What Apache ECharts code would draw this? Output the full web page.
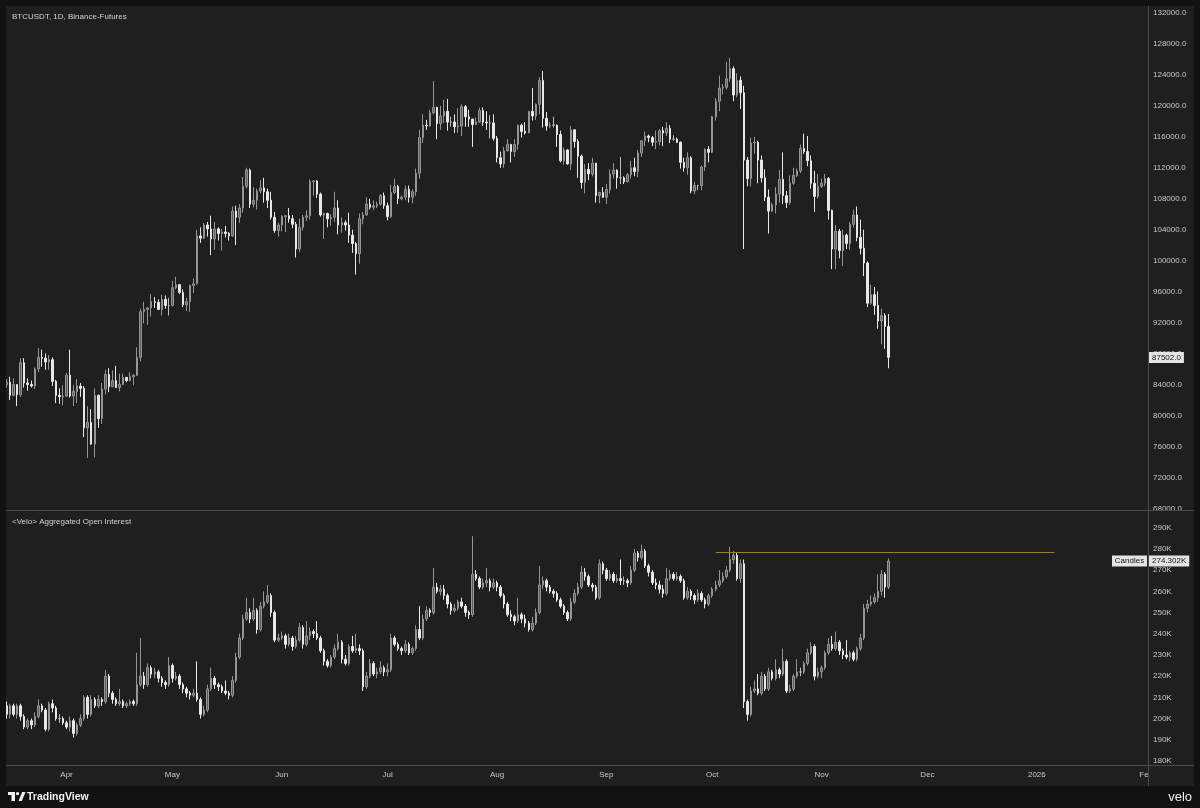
<!DOCTYPE html>
<html>
<head>
<meta charset="utf-8">
<script src="https://cdn.jsdelivr.net/npm/echarts@6/dist/echarts.min.js"></script>
<style>
html,body{margin:0;padding:0;background:#121212;}
#c{width:1200px;height:808px;}
</style>
</head>
<body>
<div id="c"></div>
<script>
// ---------- DATA ----------
const startDate = '2025-03-15';       // first daily candle
const shownDays = 324;                // visible span: 15 Mar 2025 .. 1 Feb 2026
const monthNames = ['Jan','Feb','Mar','Apr','May','Jun','Jul','Aug','Sep','Oct','Nov','Dec'];

// BTCUSDT daily, thousands of USD (open of each day = previous close)
const priceOpen0 = 84.0;
const priceClose = [
 84.3,82.6,84.0,82.7,86.8,84.2,84.0,83.8,86.0,87.5,87.4,86.9,87.2,84.4,82.6,82.4,82.5,
 85.2,82.5,83.1,83.8,83.5,78.4,79.1,76.3,82.6,79.6,83.4,85.3,83.7,84.5,83.6,84.0,84.9,84.5,85.0,85.2,87.5,93.4,93.7,93.9,94.7,94.6,93.7,95.0,94.2,94.2,
 96.5,96.9,95.9,94.3,94.7,96.8,97.0,103.2,102.9,104.6,104.1,102.8,104.1,103.5,103.7,103.5,103.2,106.4,105.6,106.8,109.6,111.7,107.3,107.8,109.0,109.4,108.9,107.8,105.6,103.9,104.6,
 105.7,105.8,105.4,104.7,101.5,104.3,105.6,105.8,110.2,110.3,108.6,105.9,106.1,105.4,105.6,106.8,104.6,104.9,104.6,103.3,102.2,100.9,105.4,105.9,107.3,106.9,107.1,107.3,108.4,107.1,
 105.7,108.8,109.6,108.0,108.2,109.2,108.2,108.9,111.3,115.9,117.5,117.4,119.1,119.8,117.7,118.7,119.3,117.9,117.9,117.3,117.4,119.9,118.6,118.3,117.6,117.9,119.4,117.9,117.8,117.8,115.8,
 113.3,112.5,114.2,115.0,114.1,115.0,117.5,116.7,116.5,119.3,118.7,120.2,123.3,118.4,117.4,117.5,117.5,116.3,112.9,114.3,112.5,116.9,115.4,113.5,110.1,111.8,111.2,112.6,108.4,108.8,108.2,
 109.2,111.2,111.7,110.7,110.7,110.2,111.1,112.0,111.5,113.9,115.5,116.1,115.9,115.3,115.4,116.8,116.5,117.1,115.7,115.7,115.3,112.7,112.0,113.3,109.0,109.7,109.7,112.1,114.4,114.0,
 118.6,120.6,122.3,122.4,123.5,124.8,121.4,123.3,121.7,113.0,110.6,115.2,115.3,113.0,110.7,108.2,106.4,107.2,108.6,110.5,108.4,107.5,110.0,111.0,111.6,114.5,114.1,112.9,110.0,108.3,109.6,
 110.0,110.6,106.5,101.5,103.8,101.3,103.3,102.2,104.7,105.9,103.0,101.6,99.7,94.5,95.6,94.2,92.2,92.9,91.5,87.502
];
const priceHigh = [
 84.7,85.0,84.8,84.0,87.4,87.4,84.8,84.5,86.2,88.7,88.5,88.0,87.8,87.5,84.6,83.5,83.9,
 85.5,88.5,83.9,84.7,84.2,83.8,81.2,80.8,83.5,82.7,84.2,85.9,86.1,85.8,86.4,85.4,85.4,85.0,85.6,85.3,88.8,93.8,94.7,94.0,95.7,95.3,95.0,95.6,95.5,95.2,
 97.4,97.9,96.9,96.3,95.2,96.9,97.7,104.0,104.3,104.9,105.0,105.8,105.0,104.3,104.1,104.5,103.7,107.0,107.1,107.3,110.8,112.0,111.9,109.5,109.3,110.4,110.7,109.3,108.9,106.3,104.9,
 105.9,105.9,106.8,105.9,105.0,105.4,105.9,106.5,110.5,110.4,110.4,108.8,106.2,106.2,106.0,108.9,107.8,105.6,105.2,106.2,104.0,102.4,106.1,106.3,108.2,108.0,107.8,107.6,108.6,108.8,
 107.5,109.8,110.6,109.8,108.4,109.7,109.7,109.2,111.9,116.9,118.9,118.2,119.5,123.2,119.9,120.0,120.8,120.9,118.6,118.9,119.7,120.2,120.1,119.5,118.3,118.5,119.8,119.8,119.3,118.8,118.9,
 116.1,114.1,114.7,115.7,115.1,115.7,117.6,117.7,117.9,119.3,122.3,120.3,123.7,124.5,119.2,117.9,118.6,117.6,116.8,114.6,114.4,117.4,117.0,115.7,113.7,112.5,112.6,113.3,112.6,108.9,109.5,
 109.9,111.8,112.6,111.8,113.4,110.9,111.3,112.9,113.3,114.3,115.5,116.7,116.3,116.1,116.8,117.0,117.3,117.9,117.5,116.2,115.9,115.4,113.3,114.0,113.5,110.2,109.8,112.3,114.5,114.8,
 118.7,121.0,123.9,122.8,125.7,126.2,125.1,124.2,123.8,122.6,113.4,115.9,116.0,115.5,113.6,111.8,109.2,107.5,109.5,111.7,114.0,109.0,111.0,112.0,111.9,115.0,116.4,116.1,113.6,111.6,111.2,
 110.6,111.2,110.8,106.6,104.6,104.1,104.0,103.5,105.0,106.6,107.0,105.3,104.0,99.9,96.9,96.6,96.0,93.8,93.2,93.1
];
const priceLow = [
 83.6,82.0,82.5,81.2,82.4,83.6,83.2,83.6,83.4,85.6,86.3,85.9,85.9,83.8,81.6,81.5,81.3,
 82.4,82.3,81.2,81.6,82.4,77.2,74.5,76.2,74.6,78.4,78.9,82.7,83.0,83.7,83.6,83.1,83.9,84.3,84.4,83.9,85.1,87.0,91.9,91.7,92.8,93.9,93.6,92.9,93.8,92.9,
 94.1,96.3,95.7,94.0,93.5,93.4,95.8,96.9,102.3,102.8,103.1,100.7,101.4,102.6,101.3,103.0,102.6,103.1,102.0,104.9,106.2,109.3,106.8,106.9,106.6,108.7,107.5,106.8,105.3,103.6,103.1,
 103.8,103.7,104.9,104.2,100.4,101.1,103.9,105.1,105.3,108.4,108.1,105.7,102.8,104.3,104.5,105.0,103.4,103.6,103.9,102.3,101.0,98.2,99.6,104.7,105.8,106.6,106.5,106.8,107.1,106.7,
 105.2,105.5,108.6,107.3,107.8,107.8,107.5,107.4,108.4,110.6,115.2,116.9,117.3,118.9,115.7,116.9,117.8,116.8,117.3,116.5,116.5,116.1,117.3,117.3,114.7,117.5,117.8,117.4,116.9,115.8,115.5,
 112.7,112.0,112.0,114.1,112.7,113.4,114.3,115.9,116.3,116.5,118.1,118.2,118.9,117.2,116.8,117.1,117.2,114.7,112.7,112.4,112.4,111.7,114.6,110.7,109.3,108.7,110.4,110.9,107.5,107.4,108.1,
 107.3,108.7,110.6,109.3,109.9,109.9,110.1,110.6,110.9,110.8,113.4,114.8,115.3,114.8,114.4,114.9,114.8,116.1,115.2,115.5,115.2,111.9,111.5,111.1,108.7,108.6,109.1,109.1,111.6,112.7,
 113.9,118.1,119.3,121.5,122.1,123.1,120.6,121.1,119.6,101.5,109.6,109.6,113.8,110.0,110.1,107.7,103.5,106.3,106.1,107.5,107.3,106.8,107.2,109.8,110.8,111.3,113.8,112.2,109.3,106.3,108.0,
 109.4,109.6,105.3,98.9,98.9,100.3,99.3,101.5,101.4,104.3,102.5,100.8,98.0,94.0,94.3,93.0,91.2,89.2,88.6,86.1
];

// Aggregated open interest, thousands (K) (open of each day = previous close)
const oiOpen0 = 206;
const oiClose = [
 202,206,202,206,201,196,199,197,201,206, 204,195,207,205,200,200,198,196,199,193,
 197,200,210,202,209,206,209,208,220,212, 209,207,208,206,207,208,207,216,220,216,
 224,221,222,219,217,216,225,219,220,216, 214,212,211,212,209,202,204,214,219,216,
 215,213,212,211,218,229,238,247,250,247, 251,242,253,255,258,250,237,238,239,235,
 238,234,237,243,235,239,241,240,238,232, 227,225,229,233,236,228,226,234,232,233,
 232,215,220,226,221,222,224,222,223,238, 235,233,232,235,231,233,242,238,247,251,
 250,262,260,261,258,254,251,252,255,253, 250,249,268,266,262,264,265,262,264,262,
 258,254,249,248,246,249,247,245,242,245, 250,263,265,262,260,259,256,253,250,247,
 255,259,262,269,267,263,262,257,273,270, 266,268,265,266,265,265,264,270,278,276,
 279,272,269,264,263,261,259,266,268,266, 267,265,257,260,258,256,259,256,254,258,
 261,263,265,267,270,275,277,266,273,208, 202,213,214,212,220,214,222,219,223,221,
 227,213,214,220,222,222,226,231,234,220, 222,224,231,235,233,236,232,230,229,231,
 228,233,238,252,254,255,257,260,268,262, 274.302
];
const oiHigh = [
 208,207,207,207,207,202,200,200,203,209, 207,205,208,209,206,202,201,199,201,200,
 198,202,211,211,211,210,211,210,223,221, 213,210,214,209,208,209,209,231,238,222,
 226,225,224,223,220,218,229,226,222,221, 217,215,213,214,227,210,206,216,224,220,
 217,216,218,213,220,231,240,249,257,252, 257,252,255,260,263,259,251,240,241,240,
 240,239,239,245,244,246,243,242,246,239, 233,228,230,235,240,237,230,235,239,240,
 235,233,222,228,227,224,227,225,226,240, 239,236,234,237,236,234,244,253,249,253,
 252,271,264,263,263,259,255,254,256,257, 254,251,286,270,267,266,271,266,266,265,
 263,259,255,251,249,257,250,249,246,248, 252,272,267,266,263,261,260,257,254,251,
 257,261,264,272,271,268,264,263,275,274, 271,270,269,268,275,267,266,272,280,279,
 282,280,273,270,266,265,263,271,270,269, 269,268,266,262,261,259,261,260,257,259,
 262,265,270,269,272,281,279,278,275,275, 209,215,218,221,222,221,224,223,228,224,
 233,228,216,221,228,224,227,233,236,235, 224,225,232,238,239,241,237,233,237,232,
 232,234,240,254,256,258,259,268,270,269, 275.5
];
const oiLow = [
 200,200,201,200,199,195,195,195,196,200, 203,194,194,203,199,198,197,195,194,191,
 192,196,199,200,201,205,205,206,207,210, 207,206,206,205,205,206,206,206,215,214,
 215,219,219,217,215,214,215,217,218,214, 212,210,209,210,208,200,201,203,213,214,
 213,212,211,209,210,217,228,237,246,245, 246,240,241,252,254,248,236,236,237,233,
 234,232,233,236,233,234,237,238,237,231, 225,224,224,228,232,226,225,225,231,231,
 230,213,214,219,220,219,221,220,220,222, 234,232,230,231,230,230,232,237,237,246,
 248,249,259,258,256,252,249,250,251,252, 248,247,248,265,261,261,262,260,261,260,
 257,252,248,246,244,245,245,243,241,241, 244,249,261,260,259,257,255,252,249,246,
 246,254,258,261,265,262,260,256,256,268, 265,265,264,264,263,263,262,263,269,274,
 275,271,267,263,261,259,257,258,265,265, 265,264,256,256,256,254,255,255,252,253,
 257,260,262,264,266,269,273,265,264,205, 199,201,212,211,211,213,213,218,218,219,
 220,212,212,213,219,220,221,225,230,218, 219,219,223,230,232,232,230,228,228,227,
 227,227,232,237,250,253,254,255,258,257, 261
];

// horizontal level drawn on the OI pane (from Oct high, extended forward)
const oiLevel = 278.4;
const oiLevelStartIdx = 201;
const oiLevelEndIdx = 297;

// axis settings
const priceAxis = {min: 68, max: 132, interval: 4};
const oiAxis = {min: 180, max: 290, interval: 10};

// ---------- BUILD ----------
const cats = [];
(function(){
  const p = startDate.split('-').map(Number);
  const t0 = Date.UTC(p[0], p[1]-1, p[2]);
  for (let i = 0; i < shownDays; i++) {
    cats.push(new Date(t0 + i*86400000).toISOString().slice(0,10));
  }
})();
function ohlc(open0, close, low, high){
  return close.map((c,i)=>[i===0?open0:close[i-1], c, low[i], high[i]]);
}
const priceData = ohlc(priceOpen0, priceClose, priceLow, priceHigh);
const oiData = ohlc(oiOpen0, oiClose, oiLow, oiHigh);
const lastPrice = priceClose[priceClose.length-1];
const lastOI = oiClose[oiClose.length-1];

const FONT = '"Liberation Sans", Arial, sans-serif';
const paneBg = '#1f1f1f';
const frame = '#121212';
const sep = '#4a4a4a';
const txt = '#c9c9c9';

const candleStyle = {
  color: '#5c5c5c', color0: '#e8e8e8',
  borderColor: '#959595', borderColor0: '#e8e8e8', borderColorDoji: '#bdbdbd',
  borderWidth: 1
};

function monthLabel(v){
  const m = Number(v.slice(5,7));
  return m === 1 ? v.slice(0,4) : monthNames[m-1];
}

const option = {
  backgroundColor: paneBg,
  animation: false,
  textStyle: {fontFamily: FONT},
  grid: [
    {left: 4.8, width: 1143.2, top: 13, height: 495.3},
    {left: 4.8, width: 1143.2, top: 527.7, height: 233.3}
  ],
  xAxis: [
    {type:'category', gridIndex:0, data:cats, boundaryGap:true,
     axisLine:{show:false}, axisTick:{show:false}, axisLabel:{show:false}, splitLine:{show:false}},
    {type:'category', gridIndex:1, data:cats, boundaryGap:true,
     axisLine:{show:false}, axisTick:{show:false}, splitLine:{show:false},
     axisLabel:{show:true, color:txt, fontSize:8, fontFamily:FONT, margin:10,
       interval:(i,v)=>v.slice(8)==='01', formatter:(v)=>monthLabel(v)}}
  ],
  yAxis: [
    {type:'value', gridIndex:0, position:'right', min:priceAxis.min, max:priceAxis.max, interval:priceAxis.interval,
     axisLine:{show:false}, axisTick:{show:false}, splitLine:{show:false},
     axisLabel:{color:txt, fontSize:8, fontFamily:FONT, margin:5,
       formatter:(v)=>Math.round(v*1000).toFixed(1)}},
    {type:'value', gridIndex:1, position:'right', min:oiAxis.min, max:oiAxis.max, interval:oiAxis.interval,
     axisLine:{show:false}, axisTick:{show:false}, splitLine:{show:false},
     axisLabel:{color:txt, fontSize:8, fontFamily:FONT, margin:5,
       formatter:(v)=>Math.round(v)+'K'}}
  ],
  series: [
    {type:'candlestick', name:'BTCUSDT', xAxisIndex:0, yAxisIndex:0, data:priceData,
     barWidth:2, itemStyle:candleStyle, silent:true,
     markLine:{silent:true, symbol:['none','none'], animation:false,
       lineStyle:{color:'rgba(0,0,0,0)', width:0},
       data:[{yAxis:lastPrice, label:{show:true, position:'end', distance:1,
         formatter:()=>Math.round(lastPrice*1000).toFixed(1),
         backgroundColor:'#e4e4e4', color:'#141414', fontSize:8, fontFamily:FONT, padding:[2,3,1,3]}}]}
    },
    {type:'candlestick', name:'Open Interest', xAxisIndex:1, yAxisIndex:1, data:oiData,
     barWidth:2, itemStyle:candleStyle, silent:true,
     markLine:{silent:true, symbol:['none','none'], animation:false,
       data:[
         {yAxis:lastOI, lineStyle:{color:'rgba(0,0,0,0)', width:0},
          label:{show:true, position:'end', distance:1,
            formatter:()=>lastOI.toFixed(3)+'K',
            backgroundColor:'#e4e4e4', color:'#141414', fontSize:8, fontFamily:FONT, padding:[2,3,1,3]}},
         [{coord:[cats[oiLevelStartIdx], oiLevel], lineStyle:{color:'#a37a2c', width:1, type:'solid'}, label:{show:false}},
          {coord:[cats[oiLevelEndIdx], oiLevel]}]
       ]}
    }
  ],
  graphic: {elements: [
    {type:'rect', id:'fTop', shape:{x:0,y:0,width:1200,height:6}, style:{fill:frame}, z:100, silent:true},
    {type:'rect', id:'fLeft', shape:{x:0,y:0,width:6,height:808}, style:{fill:frame}, z:100, silent:true},
    {type:'rect', id:'fRight', shape:{x:1194,y:0,width:6,height:808}, style:{fill:frame}, z:100, silent:true},
    {type:'rect', id:'fBot', shape:{x:0,y:786,width:1200,height:22}, style:{fill:frame}, z:100, silent:true},
    {type:'rect', id:'clipX', shape:{x:1149,y:766,width:45,height:20}, style:{fill:paneBg}, z:90, silent:true},
    {type:'rect', id:'clip68', shape:{x:1149,y:511,width:45,height:7}, style:{fill:paneBg}, z:90, silent:true},
    {type:'line', id:'sep1', shape:{x1:6,y1:510.5,x2:1194,y2:510.5}, style:{stroke:sep, lineWidth:1}, z:95, silent:true},
    {type:'line', id:'sep2', shape:{x1:6,y1:765.5,x2:1194,y2:765.5}, style:{stroke:sep, lineWidth:1}, z:95, silent:true},
    {type:'line', id:'sepV', shape:{x1:1148.5,y1:6,x2:1148.5,y2:786}, style:{stroke:sep, lineWidth:1}, z:95, silent:true},
    {type:'text', id:'t1', x:12, y:17, z:96, silent:true,
     style:{text:'BTCUSDT, 1D, Binance-Futures', fill:'#d2d2d2', font:'8px '+FONT, verticalAlign:'middle'}},
    {type:'text', id:'t2', x:12, y:522, z:96, silent:true,
     style:{text:'<Velo> Aggregated Open Interest', fill:'#d2d2d2', font:'8px '+FONT, verticalAlign:'middle'}},
    // TradingView logo mark
    {type:'rect', id:'lg1', shape:{x:8,y:792,width:7,height:3}, style:{fill:'#f2f2f2'}, z:101, silent:true},
    {type:'rect', id:'lg2', shape:{x:11.5,y:792,width:3.5,height:9}, style:{fill:'#f2f2f2'}, z:101, silent:true},
    {type:'circle', id:'lg3', shape:{cx:17.6,cy:793.6,r:1.7}, style:{fill:'#f2f2f2'}, z:101, silent:true},
    {type:'polygon', id:'lg4', shape:{points:[[18.5,801],[21.8,801],[25.5,792],[22.2,792]]}, style:{fill:'#f2f2f2'}, z:101, silent:true},
    {type:'text', id:'tv', x:27, y:797, z:101, silent:true,
     style:{text:'TradingView', fill:'#f2f2f2', font:'bold 10.5px '+FONT, verticalAlign:'middle'}},
    {type:'text', id:'velo', x:1192, y:797, z:101, silent:true,
     style:{text:'velo', fill:'#f0f0f0', font:'13px '+FONT, align:'right', verticalAlign:'middle'}}
  ]}
};

const chart = echarts.init(document.getElementById('c'), null, {renderer:'canvas'});
chart.setOption(option);

// "Candles" tag to the left of the open-interest value label, placed via the series' axes
const lastIdx = oiClose.length - 1;
const pt = chart.convertToPixel({seriesIndex:1}, [cats[lastIdx], lastOI]);
const tagY = (pt && isFinite(pt[1])) ? pt[1] : null;
if (tagY !== null) {
  chart.setOption({graphic:{elements:[
    {type:'rect', id:'candlesBox', shape:{x:1112, y:tagY-5.5, width:35, height:11}, style:{fill:'#e4e4e4'}, z:99, silent:true},
    {type:'text', id:'candlesTxt', x:1129.5, y:tagY, z:99, silent:true,
     style:{text:'Candles', fill:'#141414', font:'8px '+FONT, align:'center', verticalAlign:'middle'}}
  ]}});
}
</script>
</body>
</html>
